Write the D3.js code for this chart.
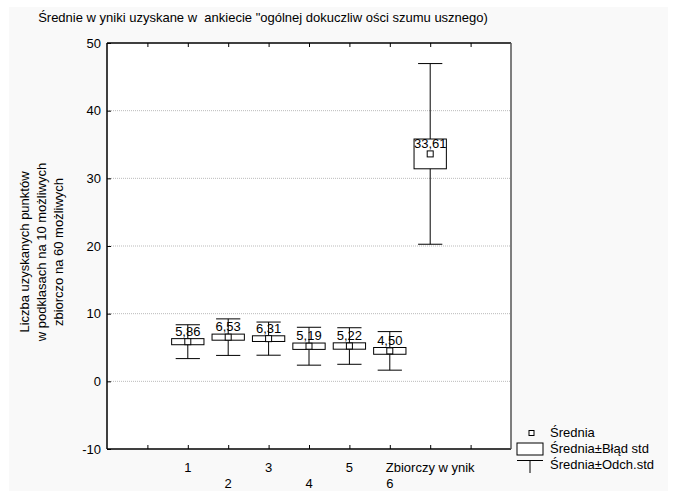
<!DOCTYPE html>
<html>
<head>
<meta charset="utf-8">
<script src="https://cdn.jsdelivr.net/npm/d3@7"></script>
<style>
  body { margin: 0; background: #fff; }
  text { font-family: "Liberation Sans", Arial, sans-serif; font-size: 13px; fill: #000; }
</style>
</head>
<body>
<div id="plot"></div>
<script>
d3 = window.d3;

// data
var categories = ["1", "2", "3", "4", "5", "6", "Zbiorczy w ynik"];
var catPos = [2, 3, 4, 5, 6, 7, 8];
var means = [5.86, 6.53, 6.31, 5.19, 5.22, 4.50, 33.61];
var stdErr = [0.45, 0.45, 0.42, 0.47, 0.47, 0.50, 2.2];
var stdDev = [2.5, 2.7, 2.45, 2.8, 2.7, 2.85, 13.35];
var yTicks = [-10, 0, 10, 20, 30, 40, 50];
var gridTicks = [0, 10, 20, 30, 40];
var xTicks = [1, 2, 3, 4, 5, 6, 7, 8, 9];
var legendItems = ["Średnia", "Średnia±Błąd std", "Średnia±Odch.std"];

var W = 675, H = 495;
var margin = {top: 43, right: 164, bottom: 46, left: 107},
    width = W - margin.left - margin.right,
    height = H - margin.top - margin.bottom;

var root = d3.select("#plot")
  .append("svg")
  .attr("width", W)
  .attr("height", H);

// light gray panel
root.append("rect")
  .attr("x", 9).attr("y", 7)
  .attr("width", 659).attr("height", 484)
  .attr("fill", "#f9f9f9");

// title
root.append("text")
  .attr("x", 263).attr("y", 22)
  .attr("text-anchor", "middle")
  .style("white-space", "pre")
  .text("Średnie w yniki uzyskane w  ankiecie \"ogólnej dokuczliw ości szumu usznego)");

var svg = root.append("g")
  .attr("transform", "translate(" + margin.left + "," + margin.top + ")");

var x = d3.scaleLinear().domain([0, 10]).range([0, width]);
var y = d3.scaleLinear().domain([-10, 50]).range([height, 0]);

svg.append("rect")
  .attr("width", width).attr("height", height)
  .attr("fill", "#fff");

// gridlines
svg.append("g")
  .selectAll("line")
  .data(gridTicks)
  .enter().append("line")
  .attr("x1", 0).attr("x2", width)
  .attr("y1", function(d) { return y(d); })
  .attr("y2", function(d) { return y(d); })
  .attr("stroke", "#bbb")
  .attr("stroke-dasharray", "1,1");

// y axis labels and inward ticks
var yAxis = svg.append("g")
  .call(d3.axisLeft(y).tickValues(yTicks).tickSize(-4).tickPadding(6)
    .tickFormat(function(d) { return String(d); }));
yAxis.select(".domain").remove();
yAxis.selectAll("line").attr("stroke", "#000");

// x ticks top and bottom, inward
var xTop = svg.append("g")
  .call(d3.axisTop(x).tickValues(xTicks).tickSize(-4).tickFormat(""));
xTop.select(".domain").remove();
var xBot = svg.append("g")
  .attr("transform", "translate(0," + height + ")")
  .call(d3.axisBottom(x).tickValues(xTicks).tickSize(-4).tickFormat(""));
xBot.select(".domain").remove();

// x category labels, staggered in two rows
svg.append("g")
  .selectAll("text")
  .data(categories)
  .enter().append("text")
  .attr("x", function(d, i) { return x(catPos[i]); })
  .attr("y", function(d, i) { return height + (i % 2 === 0 ? 23 : 39); })
  .attr("text-anchor", "middle")
  .style("white-space", "pre")
  .text(function(d) { return d; });

// frame
svg.append("line").attr("x1", 0).attr("x2", width).attr("y1", 0).attr("y2", 0)
  .attr("stroke", "#000").attr("stroke-width", 1.5);
svg.append("line").attr("x1", 0).attr("x2", 0).attr("y1", 0).attr("y2", height)
  .attr("stroke", "#000").attr("stroke-width", 1.5);
svg.append("line").attr("x1", 0).attr("x2", width).attr("y1", height).attr("y2", height)
  .attr("stroke", "#000").attr("stroke-width", 1.5);
svg.append("line").attr("x1", width).attr("x2", width).attr("y1", 0).attr("y2", height)
  .attr("stroke", "#555").attr("stroke-width", 1.5);

// boxes
var boxHalf = x(0.4) - x(0);
var capHalf = x(0.3) - x(0);
var fmt = d3.format(".2f");

var groups = svg.append("g")
  .selectAll("g")
  .data(means)
  .enter().append("g");

groups.append("line")
  .attr("x1", function(d, i) { return x(catPos[i]); })
  .attr("x2", function(d, i) { return x(catPos[i]); })
  .attr("y1", function(d, i) { return y(d + stdDev[i]); })
  .attr("y2", function(d, i) { return y(d - stdDev[i]); })
  .attr("stroke", "#000");

groups.append("line")
  .attr("x1", function(d, i) { return x(catPos[i]) - capHalf; })
  .attr("x2", function(d, i) { return x(catPos[i]) + capHalf; })
  .attr("y1", function(d, i) { return y(d + stdDev[i]); })
  .attr("y2", function(d, i) { return y(d + stdDev[i]); })
  .attr("stroke", "#000");

groups.append("line")
  .attr("x1", function(d, i) { return x(catPos[i]) - capHalf; })
  .attr("x2", function(d, i) { return x(catPos[i]) + capHalf; })
  .attr("y1", function(d, i) { return y(d - stdDev[i]); })
  .attr("y2", function(d, i) { return y(d - stdDev[i]); })
  .attr("stroke", "#000");

groups.append("rect")
  .attr("x", function(d, i) { return x(catPos[i]) - boxHalf; })
  .attr("width", boxHalf * 2)
  .attr("y", function(d, i) { return y(d + stdErr[i]); })
  .attr("height", function(d, i) { return y(d - stdErr[i]) - y(d + stdErr[i]); })
  .attr("fill", "#fff")
  .attr("stroke", "#000");

groups.append("rect")
  .attr("x", function(d, i) { return x(catPos[i]) - 3; })
  .attr("y", function(d) { return y(d) - 3; })
  .attr("width", 6).attr("height", 6)
  .attr("fill", "#fff")
  .attr("stroke", "#000");

groups.append("text")
  .attr("x", function(d, i) { return x(catPos[i]); })
  .attr("y", function(d) { return y(d) - 6; })
  .attr("text-anchor", "middle")
  .text(function(d) { return fmt(d).replace(".", ","); });

// y axis title
var yTitle = root.append("text")
  .attr("transform", "translate(42,252) rotate(-90)")
  .attr("text-anchor", "middle");
["Liczba uzyskanych punktów", "w podklasach na 10 możliwych", "zbiorczo na 60 możliwych"].forEach(function(t, i) {
  yTitle.append("tspan").attr("x", 0).attr("y", (i - 1) * 17 + 4).text(t);
});

// legend
var leg = root.append("g");
leg.append("rect").attr("x", 529).attr("y", 430.5).attr("width", 5).attr("height", 5)
  .attr("fill", "#fff").attr("stroke", "#000");
leg.append("rect").attr("x", 517).attr("y", 443).attr("width", 26).attr("height", 12)
  .attr("fill", "#fff").attr("stroke", "#000");
leg.append("line").attr("x1", 517).attr("x2", 543).attr("y1", 460.5).attr("y2", 460.5)
  .attr("stroke", "#000");
leg.append("line").attr("x1", 530).attr("x2", 530).attr("y1", 460.5).attr("y2", 473)
  .attr("stroke", "#000");
leg.selectAll("text.l")
  .data(legendItems)
  .enter().append("text")
  .attr("class", "l")
  .attr("x", 550)
  .attr("y", function(d, i) { return 437 + i * 16; })
  .text(function(d) { return d; });
</script>
</body>
</html>
